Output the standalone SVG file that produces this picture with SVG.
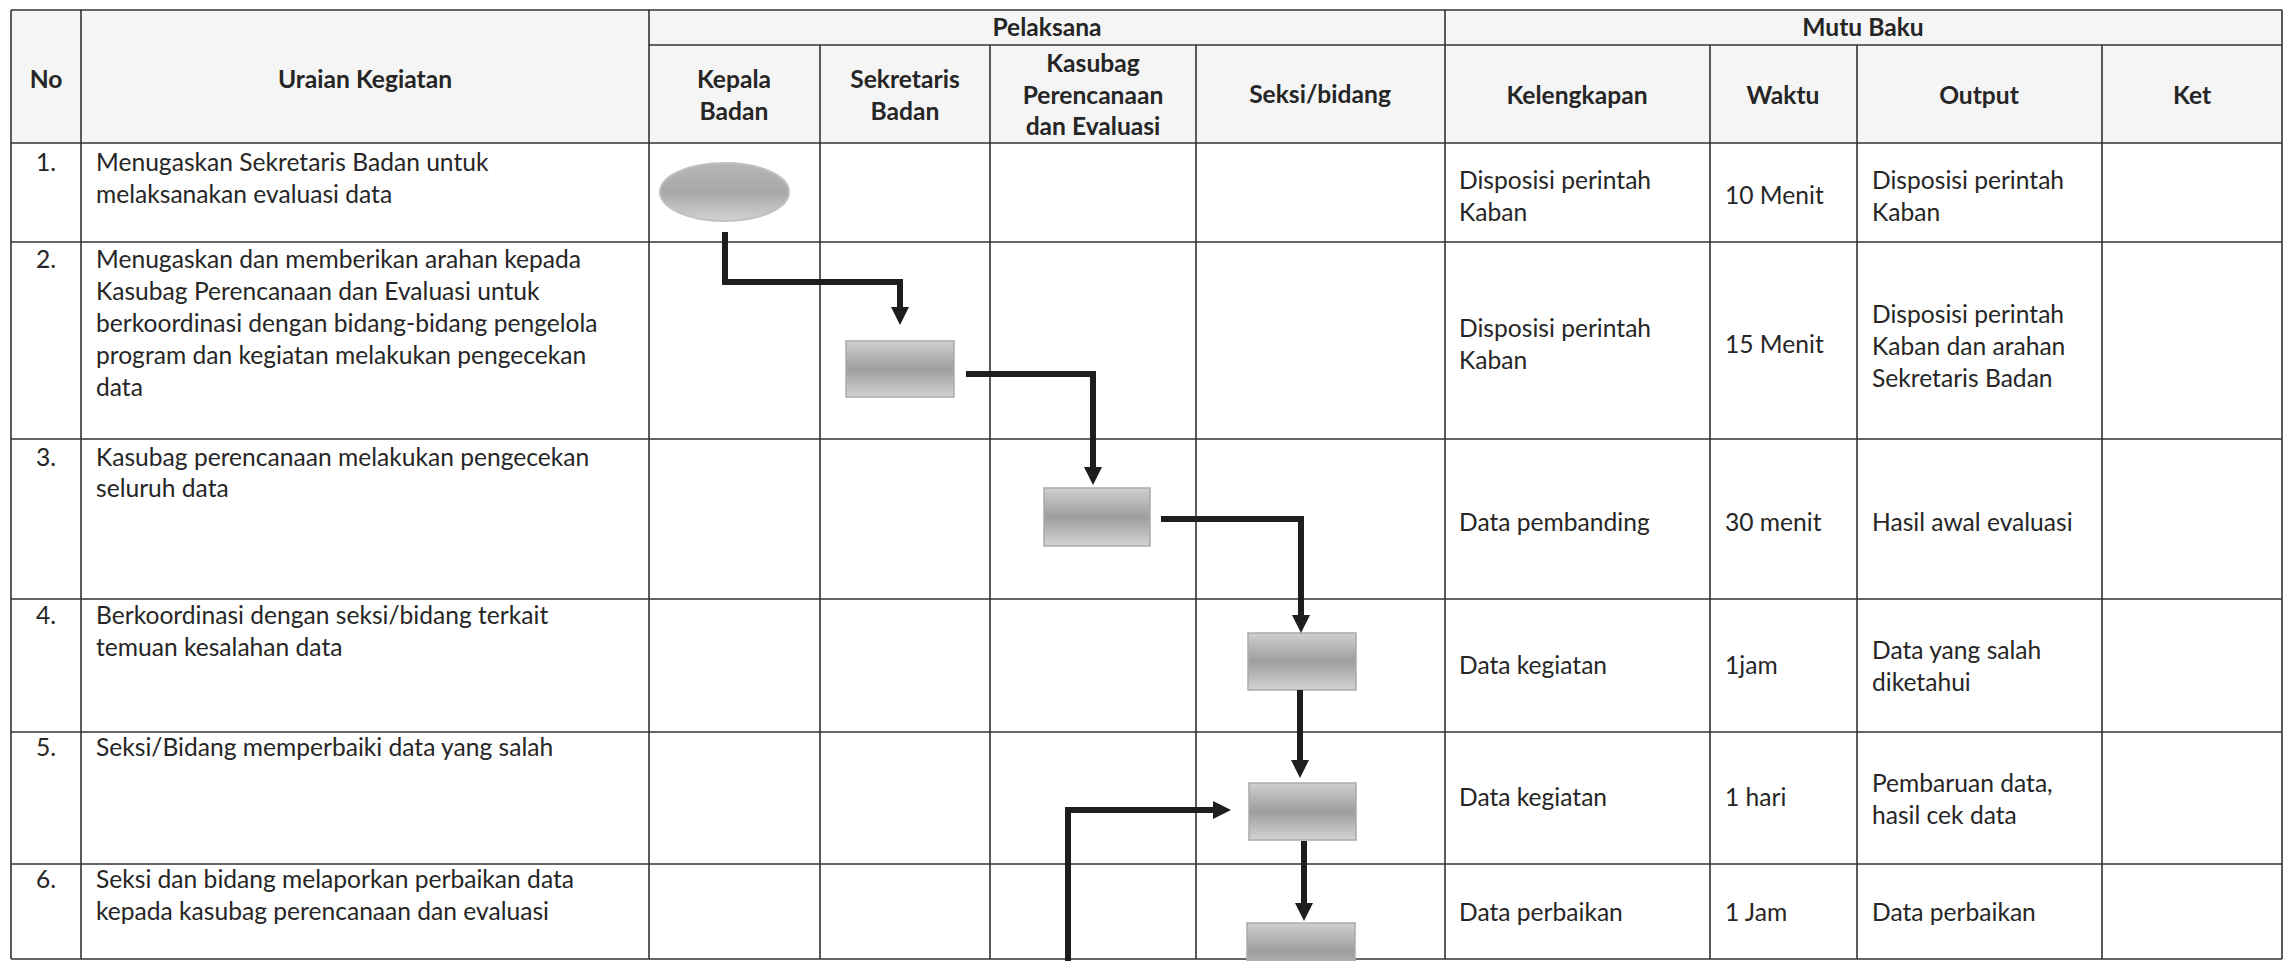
<svg xmlns="http://www.w3.org/2000/svg" width="2293" height="961" viewBox="0 0 2293 961">
<style>
.g line{stroke:#333;stroke-width:1.6}
text{font-family:"Lato","Liberation Sans",sans-serif;font-size:24.6px;fill:#262626}
.b{font-weight:bold}
.c{text-anchor:middle}
.cn path{fill:none;stroke:#1e1e1e;stroke-width:6;marker-end:url(#ah)}
.box{fill:url(#gRect);stroke:#aaa;stroke-width:1.5}
</style>
<defs>
<linearGradient id="gRect" x1="0" y1="0" x2="0" y2="1">
<stop offset="0" stop-color="#cfcfcf"/>
<stop offset="0.5" stop-color="#9e9e9e"/>
<stop offset="1" stop-color="#d3d3d3"/>
</linearGradient>
<linearGradient id="gEll" x1="0" y1="0" x2="0" y2="1">
<stop offset="0" stop-color="#b6b6b6"/>
<stop offset="0.5" stop-color="#a8a8a8"/>
<stop offset="1" stop-color="#d2d2d2"/>
</linearGradient>
<marker id="ah" markerUnits="userSpaceOnUse" markerWidth="18" markerHeight="18" refX="0" refY="9" orient="auto">
<path d="M0,0 L18,9 L0,18 Z" fill="#1e1e1e"/>
</marker>
</defs>
<rect width="2293" height="961" fill="#fff"/>
<g id="table">
<rect x="11" y="10" width="2271" height="133" fill="#f5f5f5"/>
<g class="g">
<line x1="11" y1="10" x2="2282" y2="10"/>
<line x1="649" y1="45" x2="2282" y2="45"/>
<line x1="11" y1="143" x2="2282" y2="143"/>
<line x1="11" y1="242" x2="2282" y2="242"/>
<line x1="11" y1="439" x2="2282" y2="439"/>
<line x1="11" y1="599" x2="2282" y2="599"/>
<line x1="11" y1="732" x2="2282" y2="732"/>
<line x1="11" y1="864" x2="2282" y2="864"/>
<line x1="11" y1="959" x2="2282" y2="959"/>
<line x1="11" y1="10" x2="11" y2="959"/>
<line x1="81" y1="10" x2="81" y2="959"/>
<line x1="649" y1="10" x2="649" y2="959"/>
<line x1="820" y1="45" x2="820" y2="959"/>
<line x1="990" y1="45" x2="990" y2="959"/>
<line x1="1196" y1="45" x2="1196" y2="959"/>
<line x1="1445" y1="10" x2="1445" y2="959"/>
<line x1="1710" y1="45" x2="1710" y2="959"/>
<line x1="1857" y1="45" x2="1857" y2="959"/>
<line x1="2102" y1="45" x2="2102" y2="959"/>
<line x1="2282" y1="10" x2="2282" y2="959"/>
</g>
<g class="b c">
<text x="46" y="88">No</text>
<text x="365" y="88">Uraian Kegiatan</text>
<text x="1047" y="36">Pelaksana</text>
<text x="1863" y="36">Mutu Baku</text>
<text x="734" y="88">Kepala</text>
<text x="734" y="120">Badan</text>
<text x="905" y="88">Sekretaris</text>
<text x="905" y="120">Badan</text>
<text x="1093" y="72">Kasubag</text>
<text x="1093" y="104">Perencanaan</text>
<text x="1093" y="135">dan Evaluasi</text>
<text x="1320" y="103">Seksi/bidang</text>
<text x="1577" y="104">Kelengkapan</text>
<text x="1783" y="104">Waktu</text>
<text x="1979" y="104">Output</text>
<text x="2192" y="104">Ket</text>
</g>
<g class="c">
<text x="46" y="171">1.</text>
<text x="46" y="268">2.</text>
<text x="46" y="466">3.</text>
<text x="46" y="624">4.</text>
<text x="46" y="756">5.</text>
<text x="46" y="888">6.</text>
</g>
<g>
<text x="96" y="171">Menugaskan Sekretaris Badan untuk</text>
<text x="96" y="203">melaksanakan evaluasi data</text>
<text x="96" y="268">Menugaskan dan memberikan arahan kepada</text>
<text x="96" y="300">Kasubag Perencanaan dan Evaluasi untuk</text>
<text x="96" y="332">berkoordinasi dengan bidang-bidang pengelola</text>
<text x="96" y="364">program dan kegiatan melakukan pengecekan</text>
<text x="96" y="396">data</text>
<text x="96" y="466">Kasubag perencanaan melakukan pengecekan</text>
<text x="96" y="497">seluruh data</text>
<text x="96" y="624">Berkoordinasi dengan seksi/bidang terkait</text>
<text x="96" y="656">temuan kesalahan data</text>
<text x="96" y="756">Seksi/Bidang memperbaiki data yang salah</text>
<text x="96" y="888">Seksi dan bidang melaporkan perbaikan data</text>
<text x="96" y="920">kepada kasubag perencanaan dan evaluasi</text>
</g>
<g>
<text x="1459" y="189">Disposisi perintah</text>
<text x="1459" y="221">Kaban</text>
<text x="1459" y="337">Disposisi perintah</text>
<text x="1459" y="369">Kaban</text>
<text x="1459" y="531">Data pembanding</text>
<text x="1459" y="674">Data kegiatan</text>
<text x="1459" y="806">Data kegiatan</text>
<text x="1459" y="921">Data perbaikan</text>
<text x="1725" y="204">10 Menit</text>
<text x="1725" y="353">15 Menit</text>
<text x="1725" y="531">30 menit</text>
<text x="1725" y="674">1jam</text>
<text x="1725" y="806">1 hari</text>
<text x="1725" y="921">1 Jam</text>
<text x="1872" y="189">Disposisi perintah</text>
<text x="1872" y="221">Kaban</text>
<text x="1872" y="323">Disposisi perintah</text>
<text x="1872" y="355">Kaban dan arahan</text>
<text x="1872" y="387">Sekretaris Badan</text>
<text x="1872" y="531">Hasil awal evaluasi</text>
<text x="1872" y="659">Data yang salah</text>
<text x="1872" y="691">diketahui</text>
<text x="1872" y="792">Pembaruan data,</text>
<text x="1872" y="824">hasil cek data</text>
<text x="1872" y="921">Data perbaikan</text>
</g>
</g>
<g id="n1"><ellipse cx="724.5" cy="192" rx="64.5" ry="29" fill="url(#gEll)" stroke="#c0c0c0" stroke-width="2"/></g>
<g id="n2"><rect class="box" x="846" y="341" width="108" height="56"/></g>
<g id="n3"><rect class="box" x="1044" y="488" width="106" height="58"/></g>
<g id="n4"><rect class="box" x="1248" y="633" width="108" height="57"/></g>
<g id="n5"><rect class="box" x="1249" y="783" width="107" height="57"/></g>
<g id="n6"><rect class="box" x="1247" y="923" width="108" height="57"/></g>
<g id="connectors" class="cn">
<path d="M725,232 V282 H900 V307"/>
<path d="M966,374 H1093 V467"/>
<path d="M1161,519 H1301 V615"/>
<path d="M1300,690 V760"/>
<path d="M1304,841 V903"/>
<path d="M1068,961 V810 H1213"/>
</g>
</svg>
